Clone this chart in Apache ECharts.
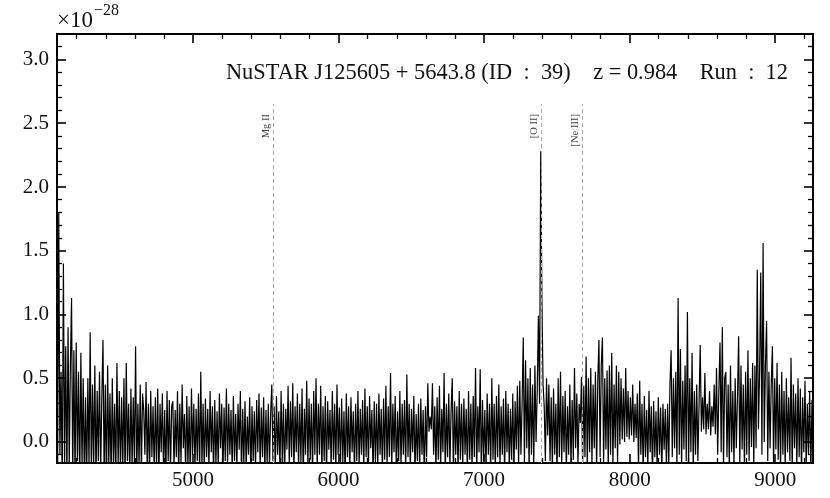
<!DOCTYPE html>
<html><head><meta charset="utf-8">
<script src="https://cdn.jsdelivr.net/npm/echarts@6/dist/echarts.min.js"></script>
<style>html,body{margin:0;padding:0;background:#fff}#c{width:830px;height:498px}</style>
</head><body><div id="c"></div>
<script>
// Wavelength grid (Angstrom) of the spectrum samples
const WAVE_START = 4065;
const WAVE_STEP = 8;
// Flux (x 1e-28), 25 samples (200 A) per block
const flux4065 = [0.6,-0.3,1.8,-0.1,0.55,-0.35,1.4,-0.2,0.75,-0.3,0.9,-0.2,0.6,1.13,-0.3,0.72,-0.32,0.78,-0.15,0.55,-0.35,0.7,-0.2,0.5,-0.3];
const flux4265 = [0.35,-0.3,0.5,-0.2,0.86,-0.28,0.45,-0.2,0.6,-0.32,0.4,-0.15,0.55,-0.25,0.35,0.8,-0.3,0.45,-0.35,0.6,-0.2,0.38,-0.3,0.5,-0.22];
const flux4465 = [0.3,-0.3,0.62,-0.2,0.4,-0.25,0.35,-0.22,0.5,-0.32,0.62,-0.15,0.3,-0.28,0.42,-0.2,0.35,-0.18,0.75,-0.3,0.3,-0.2,0.45,-0.25,0.38];
const flux4665 = [0.25,-0.1,0.47,-0.22,0.3,-0.28,0.4,-0.12,0.28,-0.25,0.35,-0.2,0.42,-0.3,0.3,-0.08,0.38,-0.22,0.25,-0.3,0.4,-0.15,0.33,-0.25,0.28];
const flux4865 = [0.32,-0.22,0.25,-0.12,0.4,-0.28,0.3,-0.18,0.45,-0.05,0.22,-0.25,0.36,-0.2,0.28,-0.3,0.42,-0.1,0.3,-0.22,0.26,-0.15,0.38,-0.26,0.55];
const flux5065 = [-0.2,0.3,-0.25,0.34,-0.12,0.26,-0.22,0.4,-0.08,0.28,-0.3,0.33,-0.18,0.24,-0.22,0.38,-0.05,0.3,-0.28,0.27,-0.15,0.42,-0.2,0.3,-0.1];
const flux5265 = [0.25,-0.25,0.36,-0.15,0.22,-0.2,0.3,-0.06,0.4,-0.28,0.26,-0.18,0.32,-0.22,0.2,-0.1,0.35,-0.3,0.28,-0.15,0.24,-0.22,0.33,-0.08,0.38];
const flux5465 = [-0.22,0.27,-0.12,0.35,-0.26,0.25,-0.18,0.3,-0.2,0.22,0.45,-0.15,0.28,-0.24,0.36,-0.1,0.24,-0.22,0.4,-0.16,0.3,-0.28,0.26,-0.06,0.44];
const flux5665 = [-0.18,0.32,-0.12,0.46,-0.25,0.28,-0.08,0.38,-0.22,0.3,-0.16,0.42,-0.3,0.26,-0.1,0.48,-0.2,0.34,-0.14,0.3,-0.26,0.4,-0.1,0.5,-0.22];
const flux5865 = [0.3,-0.1,0.44,-0.24,0.28,-0.15,0.36,-0.28,0.32,-0.06,0.25,-0.22,0.4,-0.14,0.3,-0.25,0.45,-0.1,0.27,-0.2,0.34,-0.16,0.24,-0.3,0.38];
const flux6065 = [-0.12,0.28,-0.24,0.35,-0.08,0.24,-0.26,0.3,-0.15,0.4,-0.2,0.26,-0.1,0.33,-0.24,0.42,-0.12,0.28,-0.22,0.36,-0.05,0.25,-0.28,0.32,-0.16];
const flux6265 = [0.3,-0.22,0.38,-0.1,0.26,-0.25,0.34,-0.14,0.44,-0.2,0.28,-0.12,0.54,-0.24,0.3,-0.08,0.36,-0.28,0.24,-0.15,0.4,-0.2,0.3,-0.1,0.33];
const flux6465 = [-0.25,0.53,-0.12,0.3,-0.22,0.26,-0.08,0.36,-0.26,0.22,-0.15,0.3,-0.24,0.34,-0.1,0.25,-0.3,0.28,-0.12,0.46,0.08,0.2,0.1,0.46,-0.1];
const flux6665 = [0.28,-0.24,0.35,-0.14,0.44,-0.22,0.26,-0.08,0.54,-0.28,0.3,-0.12,0.38,-0.2,0.25,0.5,-0.26,0.32,-0.1,0.28,-0.24,0.4,-0.14,0.3,-0.2];
const flux6865 = [0.34,-0.1,0.26,-0.26,0.4,-0.14,0.3,-0.22,0.36,-0.12,0.58,-0.24,0.28,-0.08,0.57,-0.28,0.33,-0.15,0.25,-0.22,0.38,-0.1,0.3,-0.25,0.5];
const flux7065 = [-0.14,0.3,-0.24,0.36,-0.12,0.45,-0.2,0.28,-0.1,0.34,-0.26,0.4,-0.08,0.3,-0.22,0.26,-0.14,0.38,-0.24,0.32,-0.06,0.44,-0.18,0.48,-0.1];
const flux7265 = [0.3,0.82,-0.18,0.64,-0.05,0.5,-0.22,0.58,-0.1,0.45,-0.2,0.6,0.0,0.4,0.99,0.3,2.28,1.15,0.45,0.28,-0.15,0.5,0.05,0.45,-0.15];
const flux7465 = [0.35,-0.22,0.42,-0.1,0.3,-0.26,0.5,-0.12,0.55,-0.2,0.36,-0.08,0.4,-0.24,0.28,-0.1,0.45,-0.2,0.33,-0.14,0.58,-0.05,0.38,-0.18,0.3];
const flux7665 = [0.15,0.51,-0.2,0.44,-0.12,0.67,-0.22,0.5,-0.08,0.58,-0.18,0.45,-0.05,0.55,-0.24,0.48,0.8,-0.12,0.6,0.82,-0.18,0.5,-0.06,0.56,-0.22];
const flux7865 = [0.6,-0.1,0.7,-0.2,0.45,-0.05,0.6,-0.16,0.55,-0.02,0.5,0.02,0.42,0.0,0.58,0.04,0.4,0.02,0.35,0.05,0.45,0.0,0.3,0.03,0.38];
const flux8065 = [-0.22,0.48,-0.1,0.3,-0.25,0.36,-0.12,0.25,-0.2,0.4,-0.08,0.28,-0.28,0.32,-0.12,0.24,-0.22,0.35,-0.1,0.27,-0.26,0.3,-0.06,0.26,-0.2];
const flux8265 = [0.3,-0.18,0.45,0.72,-0.12,0.5,-0.05,0.55,-0.2,1.13,-0.1,0.73,-0.22,0.48,-0.06,0.6,-0.15,1.02,-0.2,0.5,-0.08,0.7,-0.24,0.4,-0.1];
const flux8465 = [0.45,-0.15,0.3,0.76,0.08,0.35,0.1,0.54,0.06,0.3,0.1,0.4,0.05,0.28,0.12,0.45,0.06,0.58,-0.1,0.4,0.78,-0.08,0.9,-0.2,0.5];
const flux8665 = [0.55,-0.12,0.45,-0.22,0.6,-0.08,0.4,-0.2,0.5,-0.05,0.35,0.83,-0.18,0.6,-0.06,0.45,-0.22,0.55,-0.1,0.72,-0.15,0.5,-0.04,0.62,-0.2];
const flux8865 = [0.6,-0.05,1.35,0.1,0.55,1.33,-0.1,1.56,0.0,0.6,0.95,-0.15,0.55,-0.05,0.45,0.75,-0.2,0.5,-0.06,0.62,-0.14,0.45,-0.22,0.55,-0.1];
const flux9065 = [0.4,-0.22,0.5,-0.08,0.35,-0.15,0.66,-0.25,0.45,-0.05,0.38,-0.2,0.5,-0.12,0.42,-0.26,0.35,-0.08,0.48,-0.22,0.3,-0.1,0.4,-0.24,0.33];
// Emission lines marked on the plot (observed wavelengths, z = 0.984)
const lineNames = ['Mg II', '[O II]', '[Ne III]'];
const lineWaves = [5551, 7394, 7676];
const titleText = 'NuSTAR J125605 + 5643.8 (ID  :  39)    z = 0.984    Run  :  12';

const flux = [].concat(flux4065,flux4265,flux4465,flux4665,flux4865,flux5065,flux5265,flux5465,flux5665,flux5865,
  flux6065,flux6265,flux6465,flux6665,flux6865,flux7065,flux7265,flux7465,flux7665,flux7865,flux8065,flux8265,
  flux8465,flux8665,flux8865,flux9065);
const spectrum = flux.map((f, i) => [WAVE_START + i * WAVE_STEP, f]);

const X_MIN = 4065, X_MAX = 9260, Y_MIN = -0.165, Y_MAX = 3.2, LINE_TOP = 2.65;
const FONT = 'Liberation Serif';
const TXT = '#111';

function axis(isX, pos, labels) {
  return {
    type: 'value', position: pos,
    min: isX ? X_MIN : Y_MIN, max: isX ? X_MAX : Y_MAX,
    axisLine: { show: true, onZero: false, lineStyle: { color: '#000', width: 2 } },
    axisTick: { show: true, inside: true, length: 9, lineStyle: { color: '#000', width: 1.6 } },
    minorTick: { show: true, splitNumber: 5, length: 5, lineStyle: { color: '#000', width: 1.3 } },
    splitLine: { show: false },
    axisLabel: {
      show: labels, fontFamily: FONT, fontSize: 21, color: TXT, margin: isX ? 7 : 8,
      showMinLabel: false, showMaxLabel: false,
      formatter: isX ? (v => String(v)) : (v => v.toFixed(1))
    }
  };
}

const chart = echarts.init(document.getElementById('c'));
chart.setOption({
  animation: false,
  grid: { left: 57, right: 17, top: 34, bottom: 35 },
  title: {
    text: titleText, right: 37, top: 57,
    textStyle: { fontFamily: FONT, fontSize: 22.4, fontWeight: 'normal', color: TXT }
  },
  xAxis: [axis(true, 'bottom', true), axis(true, 'top', false)],
  yAxis: [axis(false, 'left', true), axis(false, 'right', false)],
  series: [
    {
      type: 'line', data: [], z: 1, silent: true,
      markLine: {
        silent: true, symbol: 'none', animation: false,
        label: { show: false },
        lineStyle: { color: '#aaa', type: [4, 3], width: 1 },
        data: lineWaves.map(w => [{ coord: [w, Y_MIN] }, { coord: [w, LINE_TOP] }])
      }
    },
    {
      type: 'line', data: spectrum, z: 2, showSymbol: false, sampling: null, silent: true,
      step: 'middle',
      lineStyle: { color: '#000', width: 1.2 }
    }
  ]
});

const graphics = [{
  type: 'text', left: 57, top: 3,
  style: {
    text: '{a|×10}{b|−28}',
    rich: {
      a: { fontFamily: FONT, fontSize: 23, fill: TXT, verticalAlign: 'bottom', lineHeight: 29 },
      b: { fontFamily: FONT, fontSize: 16, fill: TXT, verticalAlign: 'top', lineHeight: 29, padding: [0, 0, 0, 1] }
    }
  }
}];
lineWaves.forEach((w, i) => {
  const p = chart.convertToPixel({ xAxisIndex: 0, yAxisIndex: 0 }, [w, LINE_TOP]);
  graphics.push({
    type: 'text', x: p[0] - 7, y: p[1] + 10, rotation: Math.PI / 2,
    style: { text: lineNames[i], fontFamily: FONT, fontSize: 10.5, fill: '#444', align: 'right', verticalAlign: 'middle' }
  });
});
chart.setOption({ graphic: graphics });
</script></body></html>
